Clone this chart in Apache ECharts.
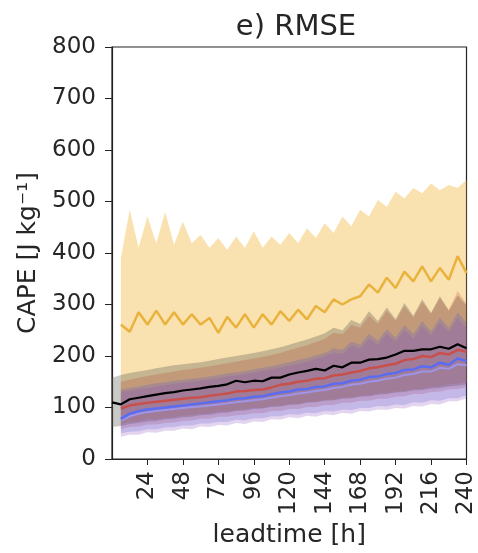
<!DOCTYPE html>
<html>
<head>
<meta charset="utf-8">
<script src="https://cdn.jsdelivr.net/npm/echarts@6/dist/echarts.min.js"></script>
<style>html,body{margin:0;padding:0;background:#fff;}#c{width:478px;height:553px;}</style>
</head>
<body>
<div id="c"></div>
<script>
// lead times (h), every 6 h
var leadtimes = [0,6,12,18,24,30,36,42,48,54,60,66,72,78,84,90,96,102,108,114,120,126,132,138,144,150,156,162,168,174,180,186,192,198,204,210,216,222,228,234,240];
var xTickLabels = ['24','48','72','96','120','144','168','192','216','240'];
var yTicks = [0,100,200,300,400,500,600,700,800];

// black model (starts at 0 h)
var blackMean  = [110,106,116,119,122,125,128,130,133,135,137,140,142,145,152,149,152,151,158,158,164,168,171,175,172,181,178,187,187,193,194,197,203,210,210,213,213,218,214,223,215];
var blackUpper = [158,163,167,170,173,176,179,182,184,186,188,191,194,197,200,203,206,209,213,217,222,227,232,238,244,255,250,270,262,287,268,294,272,303,278,310,284,316,288,318,298];
var blackLower = [62,64,68,70,73,74,77,78,81,82,85,86,89,90,93,94,97,98,101,102,105,106,109,110,113,114,117,118,121,122,125,126,129,130,133,134,137,138,141,142,145];

// other models (start at 6 h)
var orangeMean  = [261,247,285,261,288,261,285,261,281,261,274,245,276,255,281,255,281,261,287,268,290,271,297,285,310,300,310,316,339,323,352,332,364,345,374,345,371,348,394,361];
var orangeUpper = [390,484,410,471,419,480,416,461,419,435,410,429,406,432,410,442,410,432,416,439,419,448,429,458,439,471,452,484,471,503,490,519,506,526,516,535,522,532,526,542];
var orangeLower = [68,72,73,77,77,80,81,84,85,88,88,92,92,95,96,99,99,103,103,107,107,111,111,115,115,119,119,123,123,127,127,131,132,136,136,140,141,145,146,150];

var redMean  = [98,104,107,109,111,113,115,117,119,120,123,125,127,131,132,134,135,139,144,146,150,152,156,157,162,164,168,171,176,178,182,185,192,194,200,198,206,203,212,208];
var redUpper = [150,154,158,161,164,167,170,173,175,177,180,183,186,189,192,195,198,202,206,211,216,221,227,233,245,242,260,255,278,262,288,268,297,275,305,282,313,290,326,302];
var redLower = [58,62,63,67,67,70,71,74,75,78,78,82,82,85,86,89,89,93,93,97,97,101,101,105,105,109,109,113,113,117,117,121,122,126,126,130,131,135,136,140];

var blueMean  = [78,88,93,96,98,100,102,104,106,108,110,112,114,117,118,121,122,126,129,131,135,136,140,141,146,147,152,154,159,160,165,167,173,174,180,178,187,183,195,190];
var blueUpper = [135,138,141,144,147,149,152,154,156,158,160,163,166,168,171,174,177,180,184,188,192,196,201,206,215,212,228,222,243,230,252,236,260,242,268,248,275,255,285,264];
var blueLower = [50,53,54,58,58,61,62,65,65,69,69,72,72,76,75,79,79,83,83,87,86,90,89,93,92,96,95,99,99,103,102,106,105,110,109,114,113,118,118,124];

var purpleMean  = [74,83,88,91,93,95,97,99,101,102,104,106,108,110,112,114,116,119,122,124,127,129,132,134,138,140,144,146,150,152,156,158,163,165,170,170,177,175,184,182];
var purpleUpper = [130,133,136,138,141,143,146,148,150,152,154,157,160,162,165,168,171,174,177,181,185,189,194,199,207,204,220,214,234,222,243,228,251,234,258,240,265,246,274,254];
var purpleLower = [43,47,47,52,51,55,55,59,58,63,62,66,65,70,68,73,72,77,76,81,79,84,82,87,85,90,88,93,92,96,95,99,98,103,102,107,106,112,112,118];

function pad(arr){ return arr.length === leadtimes.length ? arr.slice() : ['-'].concat(arr); }
function diff(up, lo){ var u = pad(up), l = pad(lo); return u.map(function(v,i){ return (v==='-'||l[i]==='-') ? '-' : v - l[i]; }); }

function band(name, lower, upper, fill){
  return [
    {name: name+'_lo', type:'line', stack:name, data:pad(lower), symbol:'none', silent:true,
     lineStyle:{opacity:0}, z:1},
    {name: name+'_hi', type:'line', stack:name, data:diff(upper, lower), symbol:'none', silent:true,
     lineStyle:{opacity:0}, areaStyle:{color:fill, opacity:1}, z:1}
  ];
}
function line(name, data, color, width){
  return {name:name, type:'line', data:pad(data), symbol:'none', silent:true,
          lineStyle:{color:color, width:width}, z:5};
}

var series = [].concat(
  band('orange', orangeLower, orangeUpper, 'rgba(245,190,80,0.45)'),
  band('black', blackLower, blackUpper, 'rgba(90,90,80,0.33)'),
  band('red', redLower, redUpper, 'rgba(190,60,40,0.22)'),
  band('blue', blueLower, blueUpper, 'rgba(70,80,220,0.22)'),
  band('purple', purpleLower, purpleUpper, 'rgba(140,80,190,0.24)'),
  [
    line('orange', orangeMean, '#e9b23c', 2.5),
    line('red', redMean, '#c9504a', 2.5),
    line('purple', purpleMean, '#9f94e6', 2),
    line('blue', blueMean, '#5b6cf2', 2.5),
    line('black', blackMean, '#000000', 2.2)
  ]
);

var showTick = function(idx, val){ return xTickLabels.indexOf(String(val)) >= 0; };
var txt = '#262626';
var chart = echarts.init(document.getElementById('c'), null, {renderer:'canvas'});
chart.setOption({
  animation:false,
  backgroundColor:'#fff',
  title:{text:'e) RMSE', left:291, top:8, textAlign:'center',
         textStyle:{fontFamily:'DejaVu Sans', fontSize:29, fontWeight:'normal', color:txt}},
  grid:{left:112, right:8, top:47, bottom:91, show:true, borderColor:'#222', borderWidth:1.2, backgroundColor:'transparent'},
  xAxis:{type:'category', data:leadtimes.map(String), boundaryGap:false,
         name:'leadtime [h]', nameLocation:'middle', nameGap:64,
         nameTextStyle:{fontFamily:'DejaVu Sans', fontSize:25, color:txt},
         axisLine:{lineStyle:{color:'#222', width:1.2}},
         axisTick:{show:true, interval:showTick, length:6, lineStyle:{color:'#222'}},
         axisLabel:{interval:showTick, rotate:90, fontFamily:'DejaVu Sans', fontSize:23, color:txt, margin:12},
         splitLine:{show:false}},
  yAxis:{type:'value', min:yTicks[0], max:yTicks[yTicks.length-1], interval:100,
         name:'CAPE [J kg⁻¹]', nameLocation:'middle', nameGap:64,
         nameTextStyle:{fontFamily:'DejaVu Sans', fontSize:25, color:txt},
         axisLine:{show:true, lineStyle:{color:'#222', width:1.2}},
         axisTick:{show:true, length:7, lineStyle:{color:'#222'}},
         axisLabel:{fontFamily:'DejaVu Sans', fontSize:23, color:txt, margin:16},
         splitLine:{show:false}},
  series: series
});
</script>
</body>
</html>
